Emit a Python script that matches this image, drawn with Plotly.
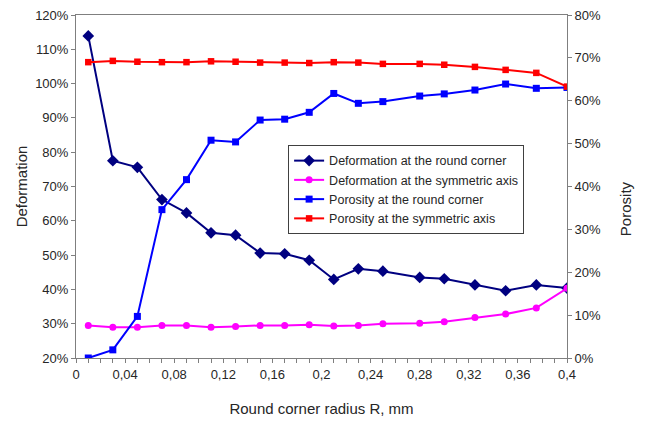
import plotly.graph_objects as go

radius = [0.01, 0.03, 0.05, 0.07, 0.09, 0.11, 0.13, 0.15, 0.17, 0.19,
          0.21, 0.23, 0.25, 0.28, 0.30, 0.325, 0.35, 0.375, 0.40]

deform_corner = [1.139, 0.775, 0.756, 0.662, 0.623, 0.565, 0.558, 0.506, 0.504, 0.485,
                 0.429, 0.460, 0.453, 0.435, 0.431, 0.413, 0.396, 0.413, 0.404]
deform_axis = [0.295, 0.290, 0.290, 0.295, 0.295, 0.290, 0.292, 0.295, 0.295, 0.297,
               0.293, 0.295, 0.300, 0.301, 0.306, 0.318, 0.328, 0.346, 0.403]
poros_corner = [0.000, 0.019, 0.097, 0.346, 0.416, 0.508, 0.504, 0.555, 0.557, 0.573,
                0.617, 0.594, 0.598, 0.611, 0.616, 0.625, 0.639, 0.629, 0.631]
poros_axis = [0.690, 0.693, 0.691, 0.690, 0.690, 0.692, 0.691, 0.689, 0.689, 0.688,
              0.690, 0.689, 0.686, 0.686, 0.684, 0.679, 0.672, 0.665, 0.633]

names = ["Deformation at the round corner", "Deformation at the symmetric axis",
         "Porosity at the round corner", "Porosity at the symmetric axis"]

FONT = "Liberation Sans, Arial, sans-serif"
TXT = "#262626"
AX = "#7f7f7f"

fig = go.Figure()
fig.add_trace(go.Scatter(x=radius, y=deform_corner, name=names[0], mode="lines+markers",
                         line=dict(color="#000080", width=2),
                         marker=dict(symbol="diamond", size=9, color="#000080"),
                         yaxis="y"))
fig.add_trace(go.Scatter(x=radius, y=deform_axis, name=names[1], mode="lines+markers",
                         line=dict(color="#ff00ff", width=2),
                         marker=dict(symbol="circle", size=7, color="#ff00ff"),
                         yaxis="y"))
fig.add_trace(go.Scatter(x=radius, y=poros_corner, name=names[2], mode="lines+markers",
                         line=dict(color="#0000ff", width=2),
                         marker=dict(symbol="square", size=7, color="#0000ff"),
                         yaxis="y2"))
fig.add_trace(go.Scatter(x=radius, y=poros_axis, name=names[3], mode="lines+markers",
                         line=dict(color="#ff0000", width=2),
                         marker=dict(symbol="square", size=6.5, color="#ff0000"),
                         yaxis="y2"))

fig.update_layout(
    width=648, height=421,
    autosize=False,
    margin=dict(l=76, r=81, t=15, b=63, autoexpand=False),
    paper_bgcolor="white", plot_bgcolor="white",
    separators=",.",
    font=dict(family=FONT, size=13, color=TXT),
    showlegend=True,
    legend=dict(x=0.432, y=0.621, xanchor="left", yanchor="top",
                bordercolor="#404040", borderwidth=1, bgcolor="white",
                font=dict(size=12.5, color=TXT), itemwidth=30,
                tracegroupgap=0, traceorder="normal"),
    xaxis=dict(range=[0, 0.4], dtick=0.04, tick0=0, tickformat=".2~f", automargin=False,
               showgrid=False, zeroline=False, showline=True, linecolor=AX, linewidth=1,
               mirror=True, ticks="outside", ticklen=4, tickcolor=AX,
               minor=dict(dtick=0.01, ticks="outside", ticklen=4, tickcolor=AX, showgrid=False),
               title=dict(text="Round corner radius R, mm", font=dict(size=15), standoff=22),
               tickfont=dict(size=13, color=TXT)),
    yaxis=dict(range=[0.2, 1.2], dtick=0.1, tickformat=".0%", automargin=False,
               showgrid=False, zeroline=False, showline=True, linecolor=AX, linewidth=1,
               ticks="outside", ticklen=4, tickcolor=AX,
               title=dict(text="Deformation", font=dict(size=15), standoff=3),
               tickfont=dict(size=13, color=TXT)),
    yaxis2=dict(range=[0, 0.8], dtick=0.1, tickformat=".0%", overlaying="y", side="right",
                anchor="x", automargin=False,
                showgrid=False, zeroline=False, showline=True, linecolor=AX, linewidth=1,
                ticks="outside", ticklen=4, tickcolor=AX,
                tickfont=dict(size=13, color=TXT)),
    yaxis3=dict(range=[0, 0.8], dtick=0.1, overlaying="y", side="right", anchor="x",
                automargin=False,
                showgrid=False, zeroline=False, showline=False,
                ticks="inside", ticklen=4, tickcolor=AX, showticklabels=False),
    annotations=[dict(text="Porosity", xref="paper", yref="paper", x=1.0, y=0.434,
                      xanchor="center", yanchor="middle",
                      xshift=58, textangle=-90, showarrow=False,
                      font=dict(size=15, color=TXT, family=FONT))],
)

fig.write_html("out.html",
               config={"displayModeBar": False},
               post_script="document.body.style.margin='0px';document.body.style.padding='0px';")
